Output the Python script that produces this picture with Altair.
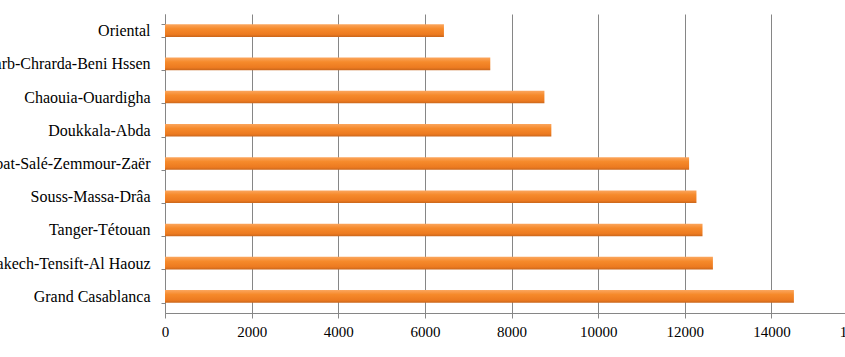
import altair as alt
import pandas as pd

NB = "\u00a0"
regions = [
    "Oriental",
    "Gharb-Chrarda-Beni Hssen",
    "Chaouia-Ouardigha" + NB,
    "Doukkala-Abda",
    "Rabat-Salé-Zemmour-Zaër" + NB,
    "Souss-Massa-Drâa",
    "Tanger-Tétouan" + NB,
    "Marrakech-Tensift-Al Haouz" + NB,
    "Grand Casablanca" + NB,
]
values = [6440, 7510, 8760, 8920, 12100, 12270, 12410, 12650, 14520]
tick_values = [0, 2000, 4000, 6000, 8000, 10000, 12000, 14000, 16000]

df = pd.DataFrame({"region": regions, "value": values})

FONT = "Liberation Serif"

grad = alt.Gradient(
    gradient="linear",
    x1=0, x2=0, y1=0, y2=1,
    stops=[
        alt.GradientStop(offset=0, color="#FBA65E"),
        alt.GradientStop(offset=0.35, color="#F68A2B"),
        alt.GradientStop(offset=0.8, color="#EC7A20"),
        alt.GradientStop(offset=1, color="#C9661C"),
    ],
)

chart = (
    alt.Chart(df)
    .mark_bar(color=grad)
    .encode(
        x=alt.X(
            "value:Q",
            scale=alt.Scale(domain=[0, 16000], range=[0, 693], nice=False, zero=True),
            axis=alt.Axis(
                title=None,
                values=tick_values,
                format="d",
                grid=True,
                gridColor="#868686",
                gridWidth=1,
                domainColor="#868686",
                tickColor="#868686",
                tickSize=5,
                labelFont=FONT,
                labelFontSize=15,
                labelColor="#000000",
                labelPadding=6,
                labelFlush=False,
                labelOverlap=False,
            ),
        ),
        y=alt.Y(
            "region:N",
            sort=None,
            scale=alt.Scale(paddingInner=0.62, paddingOuter=0.31),
            axis=alt.Axis(
                title=None,
                grid=False,
                domainColor="#868686",
                tickColor="#868686",
                tickSize=4,
                tickBand="extent",
                labelFont=FONT,
                labelFontSize=16,
                labelColor="#000000",
                labelPadding=11,
                labelLimit=0,
            ),
        ),
    )
    .properties(
        width=680,
        height=299,
        autosize=alt.AutoSizeParams(type="none"),
        padding={"left": 165, "top": 14, "right": 0, "bottom": 44},
        background="#FFFFFF",
    )
    .configure(font=FONT)
    .configure_view(stroke=None)
)

chart.save("out.html", embed_options={"renderer": "svg", "actions": False})
